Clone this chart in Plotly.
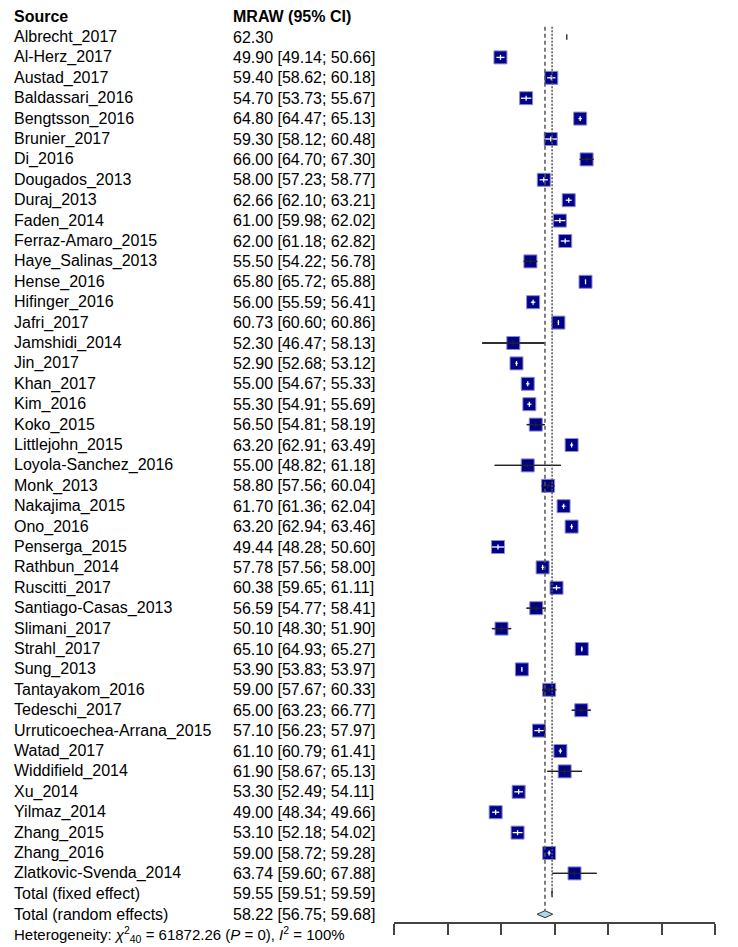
import plotly.graph_objects as go

studies = ["Albrecht_2017", "Al-Herz_2017", "Austad_2017", "Baldassari_2016", "Bengtsson_2016",
           "Brunier_2017", "Di_2016", "Dougados_2013", "Duraj_2013", "Faden_2014",
           "Ferraz-Amaro_2015", "Haye_Salinas_2013", "Hense_2016", "Hifinger_2016", "Jafri_2017",
           "Jamshidi_2014", "Jin_2017", "Khan_2017", "Kim_2016", "Koko_2015",
           "Littlejohn_2015", "Loyola-Sanchez_2016", "Monk_2013", "Nakajima_2015", "Ono_2016",
           "Penserga_2015", "Rathbun_2014", "Ruscitti_2017", "Santiago-Casas_2013", "Slimani_2017",
           "Strahl_2017", "Sung_2013", "Tantayakom_2016", "Tedeschi_2017", "Urruticoechea-Arrana_2015",
           "Watad_2017", "Widdifield_2014", "Xu_2014", "Yilmaz_2014", "Zhang_2015",
           "Zhang_2016", "Zlatkovic-Svenda_2014"]
mraw = [62.30, 49.90, 59.40, 54.70, 64.80, 59.30, 66.00, 58.00, 62.66, 61.00,
        62.00, 55.50, 65.80, 56.00, 60.73, 52.30, 52.90, 55.00, 55.30, 56.50,
        63.20, 55.00, 58.80, 61.70, 63.20, 49.44, 57.78, 60.38, 56.59, 50.10,
        65.10, 53.90, 59.00, 65.00, 57.10, 61.10, 61.90, 53.30, 49.00, 53.10,
        59.00, 63.74]
lower = [None, 49.14, 58.62, 53.73, 64.47, 58.12, 64.70, 57.23, 62.10, 59.98,
         61.18, 54.22, 65.72, 55.59, 60.60, 46.47, 52.68, 54.67, 54.91, 54.81,
         62.91, 48.82, 57.56, 61.36, 62.94, 48.28, 57.56, 59.65, 54.77, 48.30,
         64.93, 53.83, 57.67, 63.23, 56.23, 60.79, 58.67, 52.49, 48.34, 52.18,
         58.72, 59.60]
upper = [None, 50.66, 60.18, 55.67, 65.13, 60.48, 67.30, 58.77, 63.21, 62.02,
         62.82, 56.78, 65.88, 56.41, 60.86, 58.13, 53.12, 55.33, 55.69, 58.19,
         63.49, 61.18, 60.04, 62.04, 63.46, 50.60, 58.00, 61.11, 58.41, 51.90,
         65.27, 53.97, 60.33, 66.77, 57.97, 61.41, 65.13, 54.11, 49.66, 54.02,
         59.28, 67.88]
ci_text = ["62.30", "49.90 [49.14; 50.66]", "59.40 [58.62; 60.18]", "54.70 [53.73; 55.67]",
           "64.80 [64.47; 65.13]", "59.30 [58.12; 60.48]", "66.00 [64.70; 67.30]",
           "58.00 [57.23; 58.77]", "62.66 [62.10; 63.21]", "61.00 [59.98; 62.02]",
           "62.00 [61.18; 62.82]", "55.50 [54.22; 56.78]", "65.80 [65.72; 65.88]",
           "56.00 [55.59; 56.41]", "60.73 [60.60; 60.86]", "52.30 [46.47; 58.13]",
           "52.90 [52.68; 53.12]", "55.00 [54.67; 55.33]", "55.30 [54.91; 55.69]",
           "56.50 [54.81; 58.19]", "63.20 [62.91; 63.49]", "55.00 [48.82; 61.18]",
           "58.80 [57.56; 60.04]", "61.70 [61.36; 62.04]", "63.20 [62.94; 63.46]",
           "49.44 [48.28; 50.60]", "57.78 [57.56; 58.00]", "60.38 [59.65; 61.11]",
           "56.59 [54.77; 58.41]", "50.10 [48.30; 51.90]", "65.10 [64.93; 65.27]",
           "53.90 [53.83; 53.97]", "59.00 [57.67; 60.33]", "65.00 [63.23; 66.77]",
           "57.10 [56.23; 57.97]", "61.10 [60.79; 61.41]", "61.90 [58.67; 65.13]",
           "53.30 [52.49; 54.11]", "49.00 [48.34; 49.66]", "53.10 [52.18; 54.02]",
           "59.00 [58.72; 59.28]", "63.74 [59.60; 67.88]"]
fixed = (59.55, 59.51, 59.59)
random_eff = (58.22, 56.75, 59.68)
fixed_text = "59.55 [59.51; 59.59]"
random_text = "58.22 [56.75; 59.68]"
heterogeneity_text = "Heterogeneity: <i>χ</i><sup>2</sup><sub>40</sub> = 61872.26 (<i>P</i> = 0), <i>I</i><sup>2</sup> = 100%"
x_ticks = [30, 40, 50, 60, 70, 80, 90]

FONT = "Liberation Sans, Arial, sans-serif"
OFF = 8  # page body margin
W, H = 738 - OFF, 947 - OFF
PX_L, PX_R = 394 - OFF, 715 - OFF
ROW0, ROWH = 37 - OFF, 20.4
AXIS_Y = 922 - OFF
SQ = 13
half_sq_units = (SQ / 2) / ((PX_R - PX_L) / (x_ticks[-1] - x_ticks[0]))

n = len(studies)
fig = go.Figure()

# CI lines (black)
cx, cy = [], []
for i in range(n):
    if lower[i] is not None:
        cx += [lower[i], upper[i], None]
        cy += [i, i, None]
fig.add_trace(go.Scatter(x=cx, y=cy, mode="lines", line=dict(color="#222", width=1.3),
                         hoverinfo="skip", showlegend=False))

# squares
sq_idx = [i for i in range(n) if lower[i] is not None]
fig.add_trace(go.Scatter(x=[mraw[i] for i in sq_idx], y=sq_idx, mode="markers",
                         marker=dict(symbol="square", size=SQ, color="#000088",
                                     line=dict(color="#8c8cd0", width=1)),
                         hoverinfo="skip", showlegend=False))

# inside segments + ticks
wx, wy, bx, by = [], [], [], []
for i in range(n):
    if lower[i] is None:
        bx += [mraw[i], mraw[i], None]
        by += [i - 0.14, i + 0.14, None]
        continue
    inside = (mraw[i] - lower[i] <= half_sq_units) and (upper[i] - mraw[i] <= half_sq_units)
    seg_x = [lower[i], upper[i], None, mraw[i], mraw[i], None]
    seg_y = [i, i, None, i - 0.12, i + 0.12, None]
    if inside:
        wx += seg_x; wy += seg_y
    else:
        bx += seg_x; by += seg_y
fig.add_trace(go.Scatter(x=wx, y=wy, mode="lines", line=dict(color="white", width=1.3),
                         hoverinfo="skip", showlegend=False))
fig.add_trace(go.Scatter(x=bx, y=by, mode="lines", line=dict(color="#222", width=1.3),
                         hoverinfo="skip", showlegend=False))

# reference lines
y_fixed = n
y_random = n + 1
fig.add_trace(go.Scatter(x=[random_eff[0], random_eff[0]], y=[-0.5, y_random - 0.17], mode="lines",
                         line=dict(color="#555", width=1.5, dash="4px,3px"),
                         hoverinfo="skip", showlegend=False))
fig.add_trace(go.Scatter(x=[fixed[0], fixed[0]], y=[-0.5, y_fixed], mode="lines",
                         line=dict(color="#555", width=1.5, dash="2px,1.5px"),
                         hoverinfo="skip", showlegend=False))

# diamonds
for (est, lo, hi), yy in [(fixed, y_fixed), (random_eff, y_random)]:
    fig.add_trace(go.Scatter(x=[lo, est, hi, est, lo], y=[yy, yy - 0.17, yy, yy + 0.17, yy],
                             mode="lines", fill="toself", fillcolor="#add8e6",
                             line=dict(color="#333", width=1),
                             hoverinfo="skip", showlegend=False))

def px_to_paper(px):
    return (px - OFF - PX_L) / (PX_R - PX_L)

def py_to_paper(py):
    return (AXIS_Y - (py - OFF)) / AXIS_Y

ann = []
def add_text(px, yy, text, size=16, bold=False):
    if bold:
        text = "<b>" + text + "</b>"
    ann.append(dict(x=px_to_paper(px), xref="paper", y=yy, yref="y", text=text,
                    xanchor="left", yanchor="middle", showarrow=False,
                    font=dict(family=FONT, size=size, color="black")))

add_text(12, -1, "Source", bold=True)
add_text(231, -1, "MRAW (95% CI)", bold=True)
for i in range(n):
    add_text(12, i, studies[i])
    add_text(231, i, ci_text[i])
add_text(12, y_fixed, "Total (fixed effect)")
add_text(231, y_fixed, fixed_text)
add_text(12, y_random, "Total (random effects)")
add_text(231, y_random, random_text)

ann.append(dict(x=px_to_paper(12), xref="paper", y=py_to_paper(934), yref="paper",
                text=heterogeneity_text,
                xanchor="left", yanchor="middle", showarrow=False,
                font=dict(family=FONT, size=15, color="black")))

y_top = (0 - ROW0) / ROWH
y_bot = (AXIS_Y - ROW0) / ROWH

fig.update_layout(
    width=W, height=H,
    margin=dict(l=PX_L, r=W - PX_R, t=0, b=H - AXIS_Y),
    paper_bgcolor="white", plot_bgcolor="white",
    annotations=ann,
    xaxis=dict(range=[x_ticks[0], x_ticks[-1]], tickvals=x_ticks, showticklabels=False,
               ticks="outside", ticklen=11, tickwidth=1.5, tickcolor="#444",
               showline=True, linecolor="#444", linewidth=1.5,
               showgrid=False, zeroline=False, fixedrange=True),
    yaxis=dict(range=[y_bot, y_top], visible=False, showgrid=False, zeroline=False, fixedrange=True),
)

fig.write_html("out.html")
